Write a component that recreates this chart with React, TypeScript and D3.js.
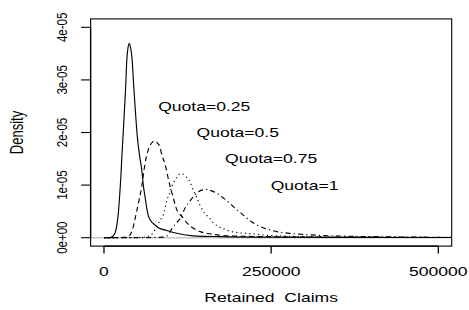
import React from "react";
import * as d3 from "d3";

// Density values are expressed in units of 1e-5
const quota025: [number, number][] = [
  [0, 0], [8000, 0.002], [11500, 0.01], [14000, 0.04], [16500, 0.09], [19000, 0.22],
  [21400, 0.46], [23200, 0.75], [25000, 1.1], [27000, 1.6], [28800, 2.0], [30500, 2.4],
  [32500, 2.88], [34000, 3.35], [35800, 3.6], [37900, 3.69], [40000, 3.6], [42000, 3.4],
  [44500, 2.88], [47000, 2.4], [49800, 1.93], [53000, 1.58], [56400, 1.3], [58800, 1.0],
  [61400, 0.78], [64000, 0.56], [66300, 0.42], [70000, 0.32], [73800, 0.27], [81300, 0.19],
  [93900, 0.137], [108800, 0.084], [133700, 0.035], [173600, 0.02], [250000, 0.01],
  [350000, 0.006], [450000, 0.004], [520000, 0.003],
];
const quota05: [number, number][] = [
  [0, 0], [20000, 0.002], [30000, 0.008], [38000, 0.04], [43900, 0.21], [47500, 0.42],
  [51400, 0.65], [56400, 0.97], [61400, 1.41], [66300, 1.67], [71400, 1.8], [76300, 1.84],
  [80000, 1.8], [83800, 1.72], [86400, 1.58], [91300, 1.4], [96200, 1.12], [100000, 0.92],
  [103700, 0.76], [107000, 0.6], [110000, 0.5], [113800, 0.44], [118700, 0.37], [124000, 0.28],
  [130000, 0.21], [138000, 0.15], [145000, 0.11], [155000, 0.08], [165000, 0.06], [175000, 0.045],
  [200000, 0.03], [250000, 0.018], [350000, 0.008], [450000, 0.005], [520000, 0.004],
];
const quota075: [number, number][] = [
  [0, 0], [40000, 0.002], [55000, 0.008], [64000, 0.02], [70000, 0.05], [74000, 0.1],
  [78000, 0.2], [84000, 0.33], [89000, 0.45], [94000, 0.7], [99000, 0.88], [104000, 1.05],
  [109000, 1.15], [113800, 1.22], [118000, 1.21], [123800, 1.14], [128700, 1.06], [133000, 0.92],
  [138800, 0.76], [143500, 0.62], [148600, 0.5], [153500, 0.43], [158700, 0.36], [163000, 0.29],
  [170000, 0.22], [178600, 0.17], [190000, 0.12], [205000, 0.09], [222000, 0.075], [240000, 0.05],
  [260000, 0.035], [300000, 0.02], [400000, 0.01], [520000, 0.006],
];
const quota1: [number, number][] = [
  [0, 0], [60000, 0.002], [80000, 0.006], [88800, 0.01], [93900, 0.03], [98000, 0.1],
  [103700, 0.21], [108000, 0.28], [113800, 0.36], [117000, 0.45], [122000, 0.58], [128700, 0.7],
  [135000, 0.8], [141200, 0.875], [147500, 0.91], [153700, 0.92], [161000, 0.89], [168700, 0.845],
  [178000, 0.76], [188600, 0.65], [193600, 0.59], [201000, 0.51], [208500, 0.43], [216000, 0.35],
  [223500, 0.28], [228600, 0.24], [238000, 0.19], [248500, 0.146], [258500, 0.115], [268400, 0.095],
  [280000, 0.08], [295000, 0.065], [320000, 0.045], [350000, 0.032], [400000, 0.02],
  [450000, 0.012], [520000, 0.008],
];

const seriesData = [quota025, quota05, quota075, quota1];
const seriesDash = ["none", "5,3.5", "1.2,3.2", "1.2,3.2,5,3.2"];
const labelTexts = ["Quota=0.25", "Quota=0.5", "Quota=0.75", "Quota=1"];
const labelX = [150000, 200000, 250000, 300000];
const labelY = [2.5, 2.0, 1.5, 1.0];

const xTicks = [0, 250000, 500000];
const xTickLabels = ["0", "250000", "500000"];
const yTicks = [0, 1, 2, 3, 4];
const yTickLabels = ["0e+00", "1e-05", "2e-05", "3e-05", "4e-05"];

const W = 469;
const H = 310;
const SX = 1.35;
const FONT = "'Liberation Sans', Arial, Helvetica, sans-serif";

export default function App() {
  const xLim = [0, 500000];
  const yLim = [0, 4];
  const xPad = (xLim[1] - xLim[0]) * 0.04;
  const yPad = (yLim[1] - yLim[0]) * 0.04;
  const left = 90.6, right = 451.7, top = 18.9, bottom = 246.1;
  const x = d3.scaleLinear().domain([xLim[0] - xPad, xLim[1] + xPad]).range([left, right]);
  const y = d3.scaleLinear().domain([yLim[0] - yPad, yLim[1] + yPad]).range([bottom, top]);

  const line = d3
    .line<[number, number]>()
    .x((d) => x(d[0]))
    .y((d) => y(d[1]))
    .curve(d3.curveMonotoneX);

  const hText = (txt: string, cx: number, by: number, size: number, key?: string) => (
    <text
      key={key}
      transform={`translate(${cx},${by}) scale(${SX},1)`}
      textAnchor="middle"
      fontSize={size}
      fontFamily={FONT}
      fill="#000"
      style={{ whiteSpace: "pre" }}
    >
      {txt}
    </text>
  );
  const vText = (txt: string, bx: number, cy: number, size: number, key?: string) => (
    <text
      key={key}
      transform={`translate(${bx},${cy}) scale(${SX},1) rotate(-90)`}
      textAnchor="middle"
      fontSize={size}
      fontFamily={FONT}
      fill="#000"
    >
      {txt}
    </text>
  );

  return (
    <svg
      width={W}
      height={H}
      style={{ position: "absolute", left: 0, top: 0, background: "#fff" }}
    >
      <defs>
        <clipPath id="plotclip">
          <rect x={left} y={top} width={right - left} height={bottom - top} />
        </clipPath>
      </defs>
      <rect x={0} y={0} width={W} height={H} fill="#fff" />
      {/* zero line */}
      <line x1={left} x2={right} y1={y(0)} y2={y(0)} stroke="#c4c4c4" strokeWidth={1.5} />
      <g clipPath="url(#plotclip)">
        {seriesData.map((s, i) => (
          <path
            key={i}
            d={line(s) || ""}
            fill="none"
            stroke="#000"
            strokeWidth={1.15}
            strokeDasharray={seriesDash[i]}
          />
        ))}
      </g>
      {/* box */}
      <rect x={left} y={top} width={right - left} height={bottom - top} fill="none" stroke="#000" strokeWidth={1.1} />
      {/* x axis */}
      <line x1={x(xTicks[0])} x2={x(xTicks[xTicks.length - 1])} y1={bottom} y2={bottom} stroke="#000" strokeWidth={1.1} />
      {xTicks.map((t, i) => (
        <line key={"xt" + i} x1={x(t)} x2={x(t)} y1={bottom} y2={bottom + 7.5} stroke="#000" strokeWidth={1.3} />
      ))}
      {xTicks.map((t, i) => hText(xTickLabels[i], x(t), 276, 13, "xl" + i))}
      {/* y axis */}
      <line x1={left} x2={left} y1={y(yTicks[0])} y2={y(yTicks[yTicks.length - 1])} stroke="#000" strokeWidth={1.3} />
      {yTicks.map((t, i) => (
        <line key={"yt" + i} x1={left} x2={left - 9.5} y1={y(t)} y2={y(t)} stroke="#000" strokeWidth={1.1} />
      ))}
      {yTicks.map((t, i) => vText(yTickLabels[i], 66.7, y(t), 11.5, "yl" + i))}
      {/* axis titles */}
      {hText("Retained  Claims", (left + right) / 2, 301.5, 13)}
      {vText("Density", 22.5, (top + bottom) / 2, 13)}
      {/* labels */}
      {labelTexts.map((t, i) => (
        <text
          key={"lab" + i}
          transform={`translate(${x(labelX[i])},${y(labelY[i])}) scale(${SX},1)`}
          textAnchor="middle"
          dy="0.35em"
          fontSize={13}
          fontFamily={FONT}
          fill="#000"
        >
          {t}
        </text>
      ))}
    </svg>
  );
}
